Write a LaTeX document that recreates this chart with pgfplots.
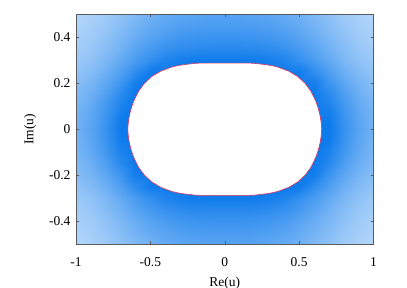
\documentclass[border=0pt]{standalone}
\usepackage{pgfplots}
\pgfplotsset{compat=1.18}
\usepackage{fontspec}
\setmainfont{Liberation Serif}
\definecolor{hole}{RGB}{222,50,90}
\definecolor{frameg}{RGB}{90,90,95}
\begin{document}
\begin{tikzpicture}[x=1pt,y=1pt]
\path[use as bounding box] (-76,-44) rectangle (331,244);
\begin{axis}[
  at={(0,0)},anchor=south west,
  scale only axis,width=297.5pt,height=229.5pt,
  xmin=-1,xmax=1,ymin=-0.5,ymax=0.5,
  xtick={-1,-0.5,0,0.5,1},xticklabels={-1,-0.5,0,0.5,1},
  ytick={-0.4,-0.2,0,0.2,0.4},yticklabels={-0.4,-0.2,0,0.2,0.4},
  tick align=inside,tick pos=both,major tick length=2.5pt,
  tick style={frameg,line width=0.4pt},
  axis line style={frameg,line width=0.6pt},
  axis on top,
  colormap={dens}{rgb255(0)=(205,228,252) rgb255(1)=(12,122,236)},
  point meta min=0,point meta max=1,
  tick label style={font=\fontsize{13.5}{15}\selectfont,black},
  xticklabel style={yshift=-10pt},
  yticklabel style={xshift=-2pt},
  xlabel={Re(u)},ylabel={Im(u)},
  label style={font=\fontsize{13.5}{15}\selectfont},
  xlabel style={yshift=-3.5pt},
  ylabel style={yshift=6pt},
]
\addplot[surf,shader=interp,mesh/cols=21,point meta=explicit] coordinates {
(-1,.5)[.13](-.9,.5)[.18](-.8,.5)[.24](-.7,.5)[.32](-.6,.5)[.4](-.5,.5)[.48](-.4,.5)[.54](-.3,.5)[.58](-.2,.5)[.6](-.1,.5)[.62](0,.5)[.62](.1,.5)[.62](.2,.5)[.6](.3,.5)[.58](.4,.5)[.54](.5,.5)[.48](.6,.5)[.4](.7,.5)[.32](.8,.5)[.24](.9,.5)[.18](1,.5)[.13]
(-1,.45)[.16](-.9,.45)[.21](-.8,.45)[.28](-.7,.45)[.37](-.6,.45)[.46](-.5,.45)[.54](-.4,.45)[.6](-.3,.45)[.65](-.2,.45)[.67](-.1,.45)[.68](0,.45)[.68](.1,.45)[.68](.2,.45)[.67](.3,.45)[.65](.4,.45)[.6](.5,.45)[.54](.6,.45)[.46](.7,.45)[.37](.8,.45)[.28](.9,.45)[.21](1,.45)[.16]
(-1,.4)[.19](-.9,.4)[.24](-.8,.4)[.32](-.7,.4)[.42](-.6,.4)[.52](-.5,.4)[.61](-.4,.4)[.68](-.3,.4)[.73](-.2,.4)[.75](-.1,.4)[.76](0,.4)[.76](.1,.4)[.76](.2,.4)[.75](.3,.4)[.73](.4,.4)[.68](.5,.4)[.61](.6,.4)[.52](.7,.4)[.42](.8,.4)[.32](.9,.4)[.24](1,.4)[.19]
(-1,.35)[.22](-.9,.35)[.28](-.8,.35)[.37](-.7,.35)[.48](-.6,.35)[.6](-.5,.35)[.7](-.4,.35)[.78](-.3,.35)[.83](-.2,.35)[.85](-.1,.35)[.86](0,.35)[.86](.1,.35)[.86](.2,.35)[.85](.3,.35)[.83](.4,.35)[.78](.5,.35)[.7](.6,.35)[.6](.7,.35)[.48](.8,.35)[.37](.9,.35)[.28](1,.35)[.22]
(-1,.3)[.26](-.9,.3)[.32](-.8,.3)[.42](-.7,.3)[.55](-.6,.3)[.68](-.5,.3)[.8](-.4,.3)[.9](-.3,.3)[.96](-.2,.3)[.98](-.1,.3)[.98](0,.3)[.98](.1,.3)[.98](.2,.3)[.98](.3,.3)[.96](.4,.3)[.9](.5,.3)[.8](.6,.3)[.68](.7,.3)[.55](.8,.3)[.42](.9,.3)[.32](1,.3)[.26]
(-1,.25)[.31](-.9,.25)[.38](-.8,.25)[.5](-.7,.25)[.65](-.6,.25)[.82](-.5,.25)[.98](-.4,.25)[1](-.3,.25)[1](-.2,.25)[1](-.1,.25)[1](0,.25)[1](.1,.25)[1](.2,.25)[1](.3,.25)[1](.4,.25)[1](.5,.25)[.98](.6,.25)[.82](.7,.25)[.65](.8,.25)[.5](.9,.25)[.38](1,.25)[.31]
(-1,.2)[.36](-.9,.2)[.45](-.8,.2)[.58](-.7,.2)[.75](-.6,.2)[.96](-.5,.2)[1](-.4,.2)[1](-.3,.2)[1](-.2,.2)[1](-.1,.2)[1](0,.2)[1](.1,.2)[1](.2,.2)[1](.3,.2)[1](.4,.2)[1](.5,.2)[1](.6,.2)[.96](.7,.2)[.75](.8,.2)[.58](.9,.2)[.45](1,.2)[.36]
(-1,.15)[.4](-.9,.15)[.5](-.8,.15)[.66](-.7,.15)[.85](-.6,.15)[1](-.5,.15)[1](-.4,.15)[1](-.3,.15)[1](-.2,.15)[1](-.1,.15)[1](0,.15)[1](.1,.15)[1](.2,.15)[1](.3,.15)[1](.4,.15)[1](.5,.15)[1](.6,.15)[1](.7,.15)[.85](.8,.15)[.66](.9,.15)[.5](1,.15)[.4]
(-1,.1)[.44](-.9,.1)[.55](-.8,.1)[.72](-.7,.1)[.92](-.6,.1)[1](-.5,.1)[1](-.4,.1)[1](-.3,.1)[1](-.2,.1)[1](-.1,.1)[1](0,.1)[1](.1,.1)[1](.2,.1)[1](.3,.1)[1](.4,.1)[1](.5,.1)[1](.6,.1)[1](.7,.1)[.92](.8,.1)[.72](.9,.1)[.55](1,.1)[.44]
(-1,.05)[.46](-.9,.05)[.58](-.8,.05)[.76](-.7,.05)[.98](-.6,.05)[1](-.5,.05)[1](-.4,.05)[1](-.3,.05)[1](-.2,.05)[1](-.1,.05)[1](0,.05)[1](.1,.05)[1](.2,.05)[1](.3,.05)[1](.4,.05)[1](.5,.05)[1](.6,.05)[1](.7,.05)[.98](.8,.05)[.76](.9,.05)[.58](1,.05)[.46]
(-1,0)[.48](-.9,0)[.6](-.8,0)[.78](-.7,0)[1](-.6,0)[1](-.5,0)[1](-.4,0)[1](-.3,0)[1](-.2,0)[1](-.1,0)[1](0,0)[1](.1,0)[1](.2,0)[1](.3,0)[1](.4,0)[1](.5,0)[1](.6,0)[1](.7,0)[1](.8,0)[.78](.9,0)[.6](1,0)[.48]
(-1,-.05)[.46](-.9,-.05)[.58](-.8,-.05)[.76](-.7,-.05)[.98](-.6,-.05)[1](-.5,-.05)[1](-.4,-.05)[1](-.3,-.05)[1](-.2,-.05)[1](-.1,-.05)[1](0,-.05)[1](.1,-.05)[1](.2,-.05)[1](.3,-.05)[1](.4,-.05)[1](.5,-.05)[1](.6,-.05)[1](.7,-.05)[.98](.8,-.05)[.76](.9,-.05)[.58](1,-.05)[.46]
(-1,-.1)[.44](-.9,-.1)[.55](-.8,-.1)[.72](-.7,-.1)[.92](-.6,-.1)[1](-.5,-.1)[1](-.4,-.1)[1](-.3,-.1)[1](-.2,-.1)[1](-.1,-.1)[1](0,-.1)[1](.1,-.1)[1](.2,-.1)[1](.3,-.1)[1](.4,-.1)[1](.5,-.1)[1](.6,-.1)[1](.7,-.1)[.92](.8,-.1)[.72](.9,-.1)[.55](1,-.1)[.44]
(-1,-.15)[.4](-.9,-.15)[.5](-.8,-.15)[.66](-.7,-.15)[.85](-.6,-.15)[1](-.5,-.15)[1](-.4,-.15)[1](-.3,-.15)[1](-.2,-.15)[1](-.1,-.15)[1](0,-.15)[1](.1,-.15)[1](.2,-.15)[1](.3,-.15)[1](.4,-.15)[1](.5,-.15)[1](.6,-.15)[1](.7,-.15)[.85](.8,-.15)[.66](.9,-.15)[.5](1,-.15)[.4]
(-1,-.2)[.36](-.9,-.2)[.45](-.8,-.2)[.58](-.7,-.2)[.75](-.6,-.2)[.96](-.5,-.2)[1](-.4,-.2)[1](-.3,-.2)[1](-.2,-.2)[1](-.1,-.2)[1](0,-.2)[1](.1,-.2)[1](.2,-.2)[1](.3,-.2)[1](.4,-.2)[1](.5,-.2)[1](.6,-.2)[.96](.7,-.2)[.75](.8,-.2)[.58](.9,-.2)[.45](1,-.2)[.36]
(-1,-.25)[.31](-.9,-.25)[.38](-.8,-.25)[.5](-.7,-.25)[.65](-.6,-.25)[.82](-.5,-.25)[.98](-.4,-.25)[1](-.3,-.25)[1](-.2,-.25)[1](-.1,-.25)[1](0,-.25)[1](.1,-.25)[1](.2,-.25)[1](.3,-.25)[1](.4,-.25)[1](.5,-.25)[.98](.6,-.25)[.82](.7,-.25)[.65](.8,-.25)[.5](.9,-.25)[.38](1,-.25)[.31]
(-1,-.3)[.26](-.9,-.3)[.32](-.8,-.3)[.42](-.7,-.3)[.55](-.6,-.3)[.68](-.5,-.3)[.8](-.4,-.3)[.9](-.3,-.3)[.96](-.2,-.3)[.98](-.1,-.3)[.98](0,-.3)[.98](.1,-.3)[.98](.2,-.3)[.98](.3,-.3)[.96](.4,-.3)[.9](.5,-.3)[.8](.6,-.3)[.68](.7,-.3)[.55](.8,-.3)[.42](.9,-.3)[.32](1,-.3)[.26]
(-1,-.35)[.22](-.9,-.35)[.28](-.8,-.35)[.37](-.7,-.35)[.48](-.6,-.35)[.6](-.5,-.35)[.7](-.4,-.35)[.78](-.3,-.35)[.83](-.2,-.35)[.85](-.1,-.35)[.86](0,-.35)[.86](.1,-.35)[.86](.2,-.35)[.85](.3,-.35)[.83](.4,-.35)[.78](.5,-.35)[.7](.6,-.35)[.6](.7,-.35)[.48](.8,-.35)[.37](.9,-.35)[.28](1,-.35)[.22]
(-1,-.4)[.19](-.9,-.4)[.24](-.8,-.4)[.32](-.7,-.4)[.42](-.6,-.4)[.52](-.5,-.4)[.61](-.4,-.4)[.68](-.3,-.4)[.73](-.2,-.4)[.75](-.1,-.4)[.76](0,-.4)[.76](.1,-.4)[.76](.2,-.4)[.75](.3,-.4)[.73](.4,-.4)[.68](.5,-.4)[.61](.6,-.4)[.52](.7,-.4)[.42](.8,-.4)[.32](.9,-.4)[.24](1,-.4)[.19]
(-1,-.45)[.16](-.9,-.45)[.21](-.8,-.45)[.28](-.7,-.45)[.37](-.6,-.45)[.46](-.5,-.45)[.54](-.4,-.45)[.6](-.3,-.45)[.65](-.2,-.45)[.67](-.1,-.45)[.68](0,-.45)[.68](.1,-.45)[.68](.2,-.45)[.67](.3,-.45)[.65](.4,-.45)[.6](.5,-.45)[.54](.6,-.45)[.46](.7,-.45)[.37](.8,-.45)[.28](.9,-.45)[.21](1,-.45)[.16]
(-1,-.5)[.13](-.9,-.5)[.18](-.8,-.5)[.24](-.7,-.5)[.32](-.6,-.5)[.4](-.5,-.5)[.48](-.4,-.5)[.54](-.3,-.5)[.58](-.2,-.5)[.6](-.1,-.5)[.62](0,-.5)[.62](.1,-.5)[.62](.2,-.5)[.6](.3,-.5)[.58](.4,-.5)[.54](.5,-.5)[.48](.6,-.5)[.4](.7,-.5)[.32](.8,-.5)[.24](.9,-.5)[.18](1,-.5)[.13]
};
\addplot[draw=hole,line width=0.6pt,fill=white,smooth,tension=0.8] coordinates {
(0,.288)(.1,.288)(.2,.287)(.28,.281)(.36,.27)(.43,.253)(.49,.23)(.54,.2)(.58,.165)(.61,.125)(.635,.075)(.648,.03)(.652,0)
(.648,-.03)(.635,-.075)(.61,-.125)(.58,-.165)(.54,-.2)(.49,-.23)(.43,-.253)(.36,-.27)(.28,-.281)(.2,-.287)(.1,-.288)(0,-.288)
(-.1,-.288)(-.2,-.287)(-.28,-.281)(-.36,-.27)(-.43,-.253)(-.49,-.23)(-.54,-.2)(-.58,-.165)(-.61,-.125)(-.635,-.075)(-.648,-.03)(-.652,0)
(-.648,.03)(-.635,.075)(-.61,.125)(-.58,.165)(-.54,.2)(-.49,.23)(-.43,.253)(-.36,.27)(-.28,.281)(-.2,.287)(-.1,.288)(0,.288)
};
\end{axis}
\end{tikzpicture}
\end{document}
